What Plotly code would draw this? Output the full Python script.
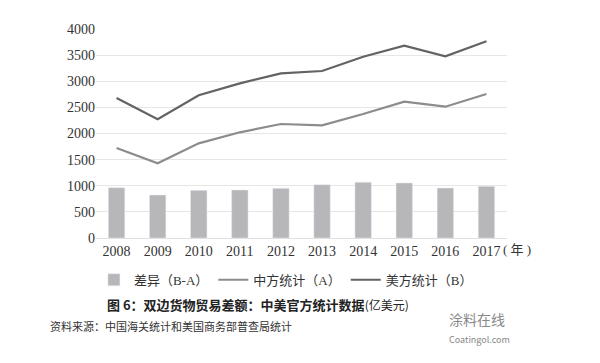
import plotly.graph_objects as go

years = ["2008", "2009", "2010", "2011", "2012", "2013", "2014", "2015", "2016", "2017"]
china_a = [1722, 1429, 1812, 2023, 2182, 2156, 2373, 2609, 2513, 2756]
us_b = [2680, 2272, 2731, 2960, 3152, 3196, 3470, 3680, 3477, 3764]
diff_ba = [963, 823, 913, 919, 951, 1020, 1066, 1053, 957, 989]
y_ticks = [0, 500, 1000, 1500, 2000, 2500, 3000, 3500, 4000]

serif = "Liberation Serif, Noto Sans CJK SC, serif"
cjk = "Liberation Serif, Noto Sans CJK SC"

fig = go.Figure()
fig.add_trace(go.Bar(x=years, y=diff_ba, name="差异（B-A）", marker_color="#b7b7b9"))
fig.add_trace(go.Scatter(x=years, y=china_a, name="中方统计（A）", mode="lines",
                         line=dict(color="#8c8c8c", width=2.2)))
fig.add_trace(go.Scatter(x=years, y=us_b, name="美方统计（B）", mode="lines",
                         line=dict(color="#636363", width=2.2)))

fig.update_layout(
    width=600, height=363,
    margin=dict(l=96, r=93, t=29, b=125),
    paper_bgcolor="white", plot_bgcolor="white",
    bargap=0.6,
    showlegend=True,
    legend=dict(orientation="h", x=-0.005, xanchor="left", y=-0.2, yanchor="middle",
                font=dict(family=cjk, size=13, color="#333333"),
                itemwidth=30, tracegroupgap=0, traceorder="normal"),
    font=dict(family=serif, size=14, color="#333333"),
)
fig.update_xaxes(showgrid=False, showline=True, linecolor="#e0e0e0", linewidth=1,
                 ticks="", tickfont=dict(family=serif, size=14, color="#333333"))
fig.update_yaxes(range=[0, 4000], tickvals=y_ticks, showgrid=True, gridcolor="#e6e6e6",
                 gridwidth=1, zeroline=False, showline=False, ticks="",
                 tickfont=dict(family=serif, size=14, color="#333333"))

fig.add_annotation(text="( 年 )", xref="paper", yref="paper", x=0.985, y=-0.055,
                   xanchor="left", yanchor="middle", showarrow=False,
                   font=dict(family=cjk, size=13, color="#333333"))
fig.add_annotation(text="<b>图 6：双边货物贸易差额：中美官方统计数据</b><span style='font-size:12px'>(亿美元)</span>",
                   xref="paper", yref="paper", x=0.395, y=-0.32,
                   xanchor="center", yanchor="middle", showarrow=False,
                   font=dict(family="Noto Sans CJK SC", size=13, color="#222222"))
fig.add_annotation(text="资料来源：中国海关统计和美国商务部普查局统计",
                   xref="paper", yref="paper", x=-0.117, y=-0.425,
                   xanchor="left", yanchor="middle", showarrow=False,
                   font=dict(family=cjk, size=11, color="#333333"))
fig.add_annotation(text="涂料在线<br><span style='font-size:9px'>Coatingol.com</span>",
                   xref="paper", yref="paper", x=1.012, y=-0.43,
                   xanchor="right", yanchor="middle", showarrow=False, align="left",
                   font=dict(family="Noto Sans CJK SC", size=14, color="#888888"))

fig.write_html("out.html", config={"displayModeBar": False},
               post_script="document.body.style.margin='0';")
